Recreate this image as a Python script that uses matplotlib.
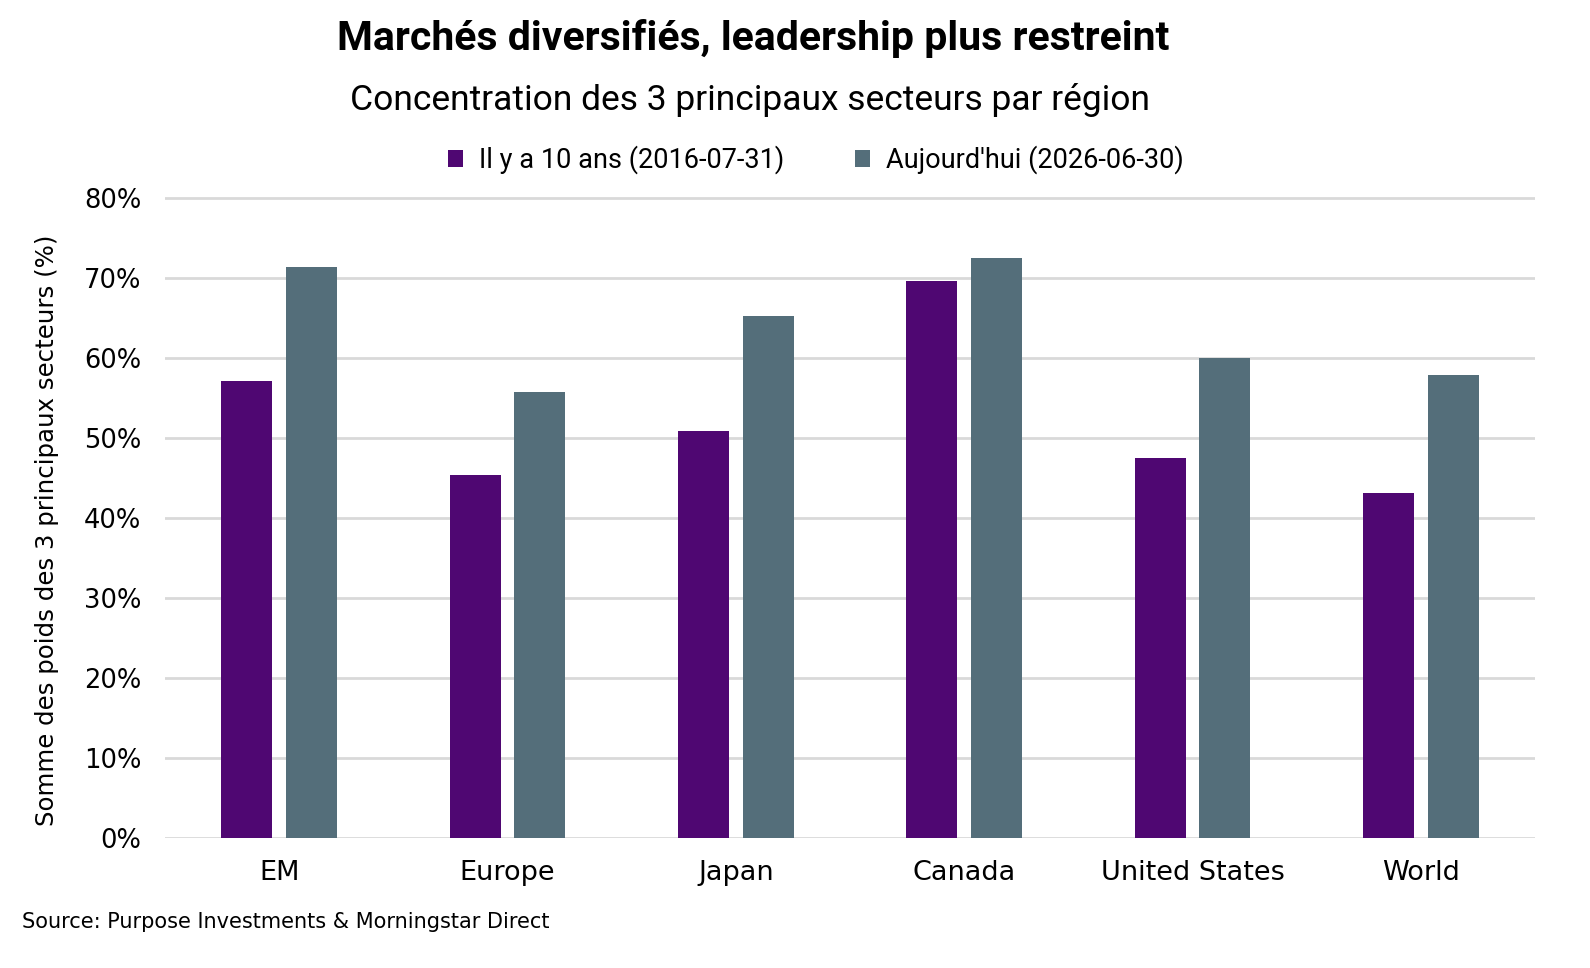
import matplotlib
matplotlib.use("Agg")
import matplotlib.pyplot as plt
import numpy as np

categories = ["EM", "Europe", "Japan", "Canada", "United States", "World"]
ten_years_ago = [57.1, 45.4, 50.9, 69.6, 47.5, 43.1]
today = [71.4, 55.8, 65.3, 72.5, 60.0, 57.9]
series_labels = ["Il y a 10 ans (2016-07-31)", "Aujourd'hui (2026-06-30)"]
yticks = [0, 10, 20, 30, 40, 50, 60, 70, 80]

title = "Marchés diversifiés, leadership plus restreint"
subtitle = "Concentration des 3 principaux secteurs par région"
ylabel = "Somme des poids des 3 principaux secteurs (%)"
source = "Source: Purpose Investments & Morningstar Direct"

purple = "#4F0772"
slate = "#546E7A"
grid_c = "#D9D9D9"

narrow = ["Roboto", "DejaVu Sans"]
body = ["DejaVu Sans"]

fig = plt.figure(figsize=(15.9, 9.68), dpi=100)
ax = fig.add_axes([165/1590, (968-838)/968, (1535-165)/1590, (838-197)/968])

x = np.arange(len(categories))
w = 0.224
off = 0.142
ax.bar(x - off, ten_years_ago, w, color=purple, label=series_labels[0], zorder=3)
ax.bar(x + off, today, w, color=slate, label=series_labels[1], zorder=3)

ax.set_xlim(-0.5, len(categories) - 0.5)
ax.set_ylim(0, 80.12)
ax.set_yticks(yticks)
ax.set_yticklabels([f"{v}%" for v in yticks], family=body, fontsize=18.5)
ax.set_xticks(x)
ax.set_xticklabels(categories, family=body, fontsize=19.5)
ax.tick_params(axis="y", length=0, pad=17)
ax.tick_params(axis="x", length=0, pad=16)
ax.yaxis.grid(True, color=grid_c, linewidth=2, zorder=0)
ax.set_axisbelow(True)
for s in ax.spines.values():
    s.set_visible(False)

fig.text(47/1590, 1 - 530/968, ylabel, rotation=90, ha="center", va="center",
         family=body, fontsize=17.6)

fig.text(753/1590, 1 - 38/968, title, ha="center", va="center",
         family=narrow, fontsize=29.5, fontweight="bold")
fig.text(750/1590, 1 - 100/968, subtitle, ha="center", va="center",
         family=narrow, fontsize=25.5)

leg = fig.legend(loc="center", bbox_to_anchor=(816/1590, 1 - 160/968), ncol=2,
                 frameon=False, prop={"family": narrow, "size": 19.5},
                 handlelength=0.55, handleheight=0.55, handletextpad=0.6,
                 columnspacing=2.6)

fig.text(22/1590, 1 - 922/968, source, ha="left", va="center",
         family=body, fontsize=15)

fig.savefig("out.png", dpi=100, facecolor="white")
